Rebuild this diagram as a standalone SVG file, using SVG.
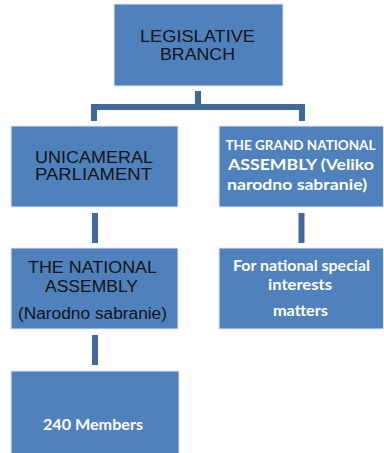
<svg xmlns="http://www.w3.org/2000/svg" width="384" height="453" viewBox="0 0 384 453">
<style>
.box{fill:#4f81bd;stroke:#e3eaf4;stroke-width:1}
.con{fill:none;stroke:#41699b;stroke-width:6;stroke-linejoin:miter}
.dk{font-family:"Liberation Sans",Arial,sans-serif;font-size:16px;fill:#141414;text-anchor:middle}
.wt{font-family:Lato,"Liberation Sans",sans-serif;font-size:15px;font-weight:bold;fill:#ffffff;text-anchor:middle}
</style>
<rect width="384" height="453" fill="#ffffff"/>
<g id="connectors">
<polyline class="con" points="94,121 94,107 302,107 302,121"/>
<line class="con" x1="198" y1="91" x2="198" y2="107"/>
<line class="con" x1="95" y1="213" x2="95" y2="243"/>
<line class="con" x1="301.5" y1="213" x2="301.5" y2="243"/>
<line class="con" x1="95" y1="335" x2="95" y2="365"/>
</g>
<g id="legislative">
<rect class="box" x="114" y="4" width="169" height="82"/>
<text class="dk" x="197.5" y="42" textLength="115" lengthAdjust="spacingAndGlyphs">LEGISLATIVE</text>
<text class="dk" x="197.5" y="60" textLength="75" lengthAdjust="spacingAndGlyphs">BRANCH</text>
</g>
<g id="unicameral">
<rect class="box" x="11" y="126" width="167" height="81"/>
<text class="dk" x="94" y="163" textLength="118" lengthAdjust="spacingAndGlyphs">UNICAMERAL</text>
<text class="dk" x="93.5" y="180" textLength="117" lengthAdjust="spacingAndGlyphs">PARLIAMENT</text>
</g>
<g id="grand">
<rect class="box" x="219" y="126" width="164.5" height="81"/>
<text class="wt" x="300.5" y="150" style="font-size:13.5px" textLength="150" lengthAdjust="spacingAndGlyphs">THE GRAND NATIONAL</text>
<text class="wt" x="301" y="170" textLength="146" lengthAdjust="spacingAndGlyphs">ASSEMBLY (Veliko</text>
<text class="wt" x="297" y="190" textLength="140" lengthAdjust="spacingAndGlyphs">narodno sabranie)</text>
</g>
<g id="national">
<rect class="box" x="11" y="248" width="167" height="81"/>
<text class="dk" x="92.5" y="273" textLength="129" lengthAdjust="spacingAndGlyphs">THE NATIONAL</text>
<text class="dk" x="91.5" y="292" textLength="93" lengthAdjust="spacingAndGlyphs">ASSEMBLY</text>
<text class="dk" x="92.5" y="319" textLength="149" lengthAdjust="spacingAndGlyphs">(Narodno sabranie)</text>
</g>
<g id="special">
<rect class="box" x="219" y="248" width="164.5" height="81"/>
<text class="wt" x="301.5" y="271" textLength="137" lengthAdjust="spacingAndGlyphs">For national special</text>
<text class="wt" x="300" y="290" textLength="64" lengthAdjust="spacingAndGlyphs">interests</text>
<text class="wt" x="300.5" y="316" textLength="55" lengthAdjust="spacingAndGlyphs">matters</text>
</g>
<g id="members">
<rect class="box" x="11" y="371" width="168" height="90"/>
<text class="wt" x="93" y="430" textLength="100" lengthAdjust="spacingAndGlyphs">240 Members</text>
</g>
</svg>
